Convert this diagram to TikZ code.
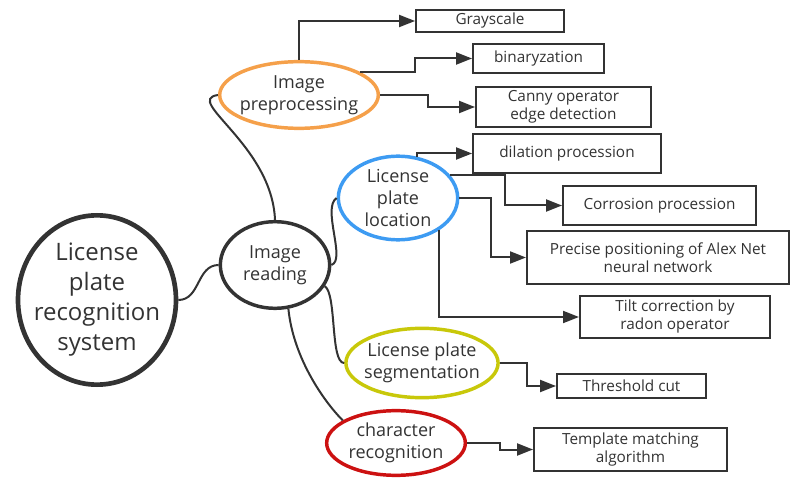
\documentclass[tikz,border=0pt]{standalone}
\usepackage{fontspec}
\setmainfont{Open Sans}
\usetikzlibrary{shapes.geometric,arrows.meta}
\definecolor{linegray}{HTML}{333333}
\definecolor{preorange}{HTML}{F5A04A}
\definecolor{locblue}{HTML}{3D9BF2}
\definecolor{segyellow}{HTML}{C8C80A}
\definecolor{recred}{HTML}{CC1111}

\begin{document}
\begin{tikzpicture}[x=0.75pt,y=-0.75pt,
  topic/.style={ellipse,draw=linegray,text=linegray,line width=2.6pt,inner sep=-3pt,align=center,font=\fontsize{13.5}{16.5}\selectfont},
  leaf/.style={rectangle,draw=linegray,text=linegray,line width=1.4pt,inner sep=0pt,align=center,font=\fontsize{11.5}{13.5}\selectfont},
  link/.style={draw=linegray,line width=1.5pt},
  tip/.style={link,-{Triangle[length=12pt,width=9pt]}}]
\useasboundingbox (0,0) rectangle (794,478);
% main topics
\node[topic,line width=3.5pt,inner xsep=-7pt,inner ysep=-4pt,minimum width=118.5pt,minimum height=127pt,font=\fontsize{18}{22.5}\selectfont] (sys) at (97,300) {License\\plate\\recognition\\system};
\node[topic,minimum width=82pt,minimum height=65pt] (read) at (275,265) {Image\\reading};
\node[topic,draw=preorange,minimum width=119pt,minimum height=50pt] (pre) at (299,95) {Image\\preprocessing};
\node[topic,draw=locblue,minimum width=89.5pt,minimum height=62.7pt] (loc) at (398,198) {License\\plate\\location};
\node[topic,draw=segyellow,minimum width=113.5pt,minimum height=52pt] (seg) at (422,363) {License plate\\segmentation};
\node[topic,draw=recred,minimum width=104pt,minimum height=48.5pt] (rec) at (396,443) {character\\recognition};
% leaves
\node[leaf,minimum width=111pt,minimum height=16.6pt] (gray) at (490,21) {Grayscale};
\node[leaf,minimum width=98.3pt,minimum height=21.8pt] (bin) at (538.5,58.5) {binaryzation};
\node[leaf,minimum width=131.3pt,minimum height=30pt] (canny) at (563.5,107) {Canny operator\\edge detection};
\node[leaf,minimum width=141pt,minimum height=29.3pt] (dil) at (567,153.5) {dilation procession};
\node[leaf,minimum width=144.8pt,minimum height=29.3pt] (cor) at (659.5,205.5) {Corrosion procession};
\node[leaf,minimum width=196.6pt,minimum height=39.8pt] (alex) at (658,257.5) {Precise positioning of Alex Net\\neural network};
\node[leaf,minimum width=142.6pt,minimum height=31.6pt] (tilt) at (675,317) {Tilt correction by\\radon operator};
\node[leaf,minimum width=111.8pt,minimum height=18pt] (thr) at (631.5,386) {Threshold cut};
\node[leaf,minimum width=144.8pt,minimum height=32.3pt] (tmpl) at (630.5,449.5) {Template matching\\algorithm};
% curved links
\draw[link] (sys.east) .. controls +(22,0) and +(-22,0) .. (read.west);
\draw[link] (read.north) .. controls +(-3,-75) and +(-35,5) .. (pre.west);
\draw[link] (read.east) .. controls +(15,-5) and +(-15,10) .. (loc.west);
\draw[link] (read.-23) .. controls +(12,8) and +(-14,0) .. (seg.west);
\draw[link] (read.-73) .. controls +(5,50) and +(-18,-18) .. (rec.157);
% elbow arrows
\draw[tip] (pre.north) |- (gray.west);
\draw[tip] (pre.21) -- ++(55,0) |- (bin.west);
\draw[tip] (pre.east) -- ++(48,0) |- (canny.west);
\draw[tip] (loc.65) |- (dil.west);
\draw[tip] (loc.24) -- ++(55,0) |- (cor.west);
\draw[tip] (loc.east) -- ++(32,0) |- (alex.west);
\draw[tip] (loc.-38) |- (tilt.west);
\draw[tip] (seg.east) -- ++(27,0) |- (thr.west);
\draw[tip] (rec.east) -- ++(33,0) |- (tmpl.west);
\end{tikzpicture}
\end{document}
